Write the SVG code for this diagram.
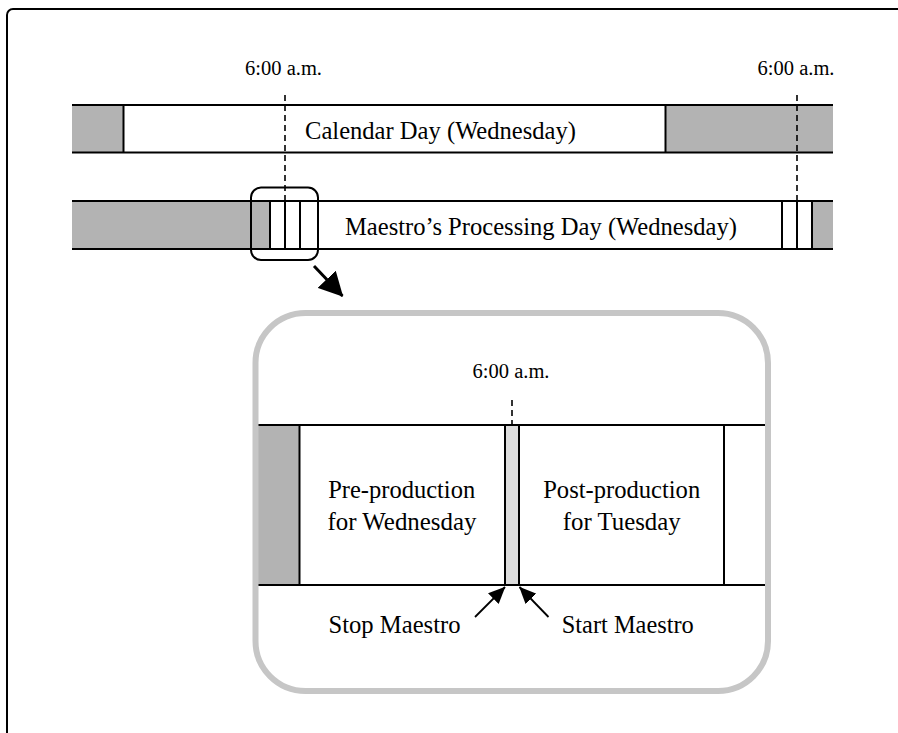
<svg xmlns="http://www.w3.org/2000/svg" width="898" height="733" viewBox="0 0 898 733">
<defs>
<style>
text{font-family:"Liberation Serif","Times New Roman",serif;fill:#000;text-anchor:middle}
.t20{font-size:20px}
.t24{font-size:25.5px}
.ln{stroke:#000;stroke-width:2;fill:none}
.dk{fill:#b3b3b3;stroke:none}
.lt{fill:#dcdcdc;stroke:none}
.dash{stroke:#000;stroke-width:1.6;stroke-dasharray:6 4;fill:none}
</style>
<marker id="bigHead" viewBox="0 0 24 25" refX="23" refY="12.5" markerWidth="24" markerHeight="25" markerUnits="userSpaceOnUse" orient="auto">
<path d="M0,0 L24,12.5 L0,25 z" fill="#000"/>
</marker>
<marker id="smallHead" viewBox="0 0 17 15" refX="16.5" refY="7.5" markerWidth="17" markerHeight="15" markerUnits="userSpaceOnUse" orient="auto">
<path d="M0,0 L17,7.5 L0,15 z" fill="#000"/>
</marker>
</defs>
<rect x="0" y="0" width="898" height="733" fill="#fff"/>
<rect id="frame" x="7" y="9" width="900" height="740" rx="6" class="ln"/>

<g id="calendar-day">
<rect class="dk" x="72" y="105" width="51.5" height="47.5"/>
<rect class="dk" x="665.5" y="105" width="167.5" height="47.5"/>
<line class="ln" x1="72" y1="105" x2="833" y2="105"/>
<line class="ln" x1="72" y1="152.5" x2="833" y2="152.5"/>
<line class="ln" x1="123.5" y1="105" x2="123.5" y2="152.5"/>
<line class="ln" x1="665.5" y1="105" x2="665.5" y2="152.5"/>
<text class="t24" x="440.5" y="139" textLength="271" lengthAdjust="spacingAndGlyphs">Calendar Day (Wednesday)</text>
</g>

<g id="processing-day">
<rect class="dk" x="72" y="201" width="198" height="48"/>
<rect class="dk" x="812" y="201" width="21" height="48"/>
<line class="ln" x1="72" y1="201" x2="833" y2="201"/>
<line class="ln" x1="72" y1="249" x2="833" y2="249"/>
<line class="ln" x1="270" y1="201" x2="270" y2="249"/>
<line class="ln" x1="285" y1="201" x2="285" y2="249"/>
<line class="ln" x1="300" y1="201" x2="300" y2="249"/>
<line class="ln" x1="782" y1="201" x2="782" y2="249"/>
<line class="ln" x1="797" y1="201" x2="797" y2="249"/>
<line class="ln" x1="812" y1="201" x2="812" y2="249"/>
<text class="t24" x="541" y="235" textLength="392" lengthAdjust="spacingAndGlyphs">Maestro’s Processing Day (Wednesday)</text>
</g>

<g id="time-left">
<text class="t20" x="283.5" y="75" textLength="77" lengthAdjust="spacingAndGlyphs">6:00 a.m.</text>
<line class="dash" x1="285" y1="95" x2="285" y2="201"/>
</g>
<g id="time-right">
<text class="t20" x="796" y="75" textLength="77" lengthAdjust="spacingAndGlyphs">6:00 a.m.</text>
<line class="dash" x1="797" y1="95" x2="797" y2="201"/>
</g>

<g id="highlight">
<rect x="251" y="187.5" width="67" height="72.5" rx="10" class="ln"/>
</g>

<g id="detail">
<rect class="dk" x="258" y="425" width="41.5" height="160"/>
<rect class="lt" x="505" y="425" width="14" height="160"/>
<line class="ln" x1="258" y1="425" x2="765" y2="425"/>
<line class="ln" x1="258" y1="585" x2="765" y2="585"/>
<line class="ln" x1="299.5" y1="425" x2="299.5" y2="585"/>
<line class="ln" x1="505" y1="425" x2="505" y2="585"/>
<line class="ln" x1="519" y1="425" x2="519" y2="585"/>
<line class="ln" x1="724" y1="425" x2="724" y2="585"/>
<text class="t20" x="511" y="378" textLength="77" lengthAdjust="spacingAndGlyphs">6:00 a.m.</text>
<line class="dash" x1="512" y1="400" x2="512" y2="424"/>
<text class="t24" x="401.7" y="498" textLength="147" lengthAdjust="spacingAndGlyphs">Pre-production</text>
<text class="t24" x="402" y="530" textLength="149" lengthAdjust="spacingAndGlyphs">for Wednesday</text>
<text class="t24" x="621.7" y="498" textLength="157" lengthAdjust="spacingAndGlyphs">Post-production</text>
<text class="t24" x="621.7" y="530" textLength="118" lengthAdjust="spacingAndGlyphs">for Tuesday</text>
<text class="t24" x="394.5" y="633" textLength="132" lengthAdjust="spacingAndGlyphs">Stop Maestro</text>
<text class="t24" x="627.8" y="633" textLength="132" lengthAdjust="spacingAndGlyphs">Start Maestro</text>
<rect x="255.5" y="313" width="512.5" height="378" rx="50" fill="none" stroke="#c6c6c6" stroke-width="6"/>
</g>

<g id="connectors">
<line x1="314" y1="266" x2="342.5" y2="296" stroke="#000" stroke-width="3" marker-end="url(#bigHead)"/>
<line x1="475" y1="617" x2="505" y2="587" stroke="#000" stroke-width="1.8" marker-end="url(#smallHead)"/>
<line x1="548.5" y1="617" x2="519.5" y2="587" stroke="#000" stroke-width="1.8" marker-end="url(#smallHead)"/>
</g>
</svg>
